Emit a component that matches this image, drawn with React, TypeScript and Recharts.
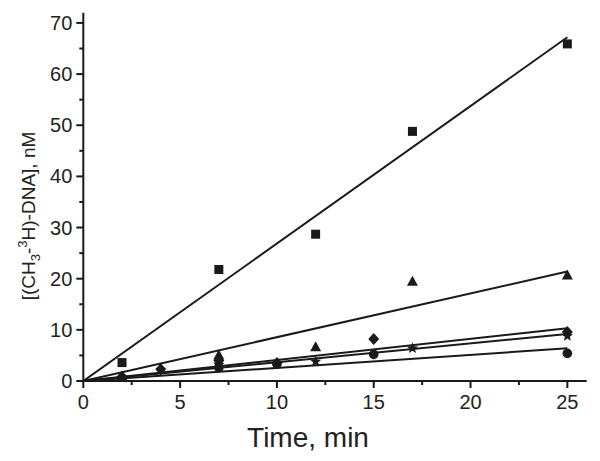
import React from 'react';
import { ScatterChart, Scatter, XAxis, YAxis } from 'recharts';

const squareT = [2, 7, 12, 17, 25];
const squareV = [3.6, 21.8, 28.7, 48.8, 65.9];
const triangleT = [2, 7, 12, 17, 25];
const triangleV = [1.0, 5.1, 6.7, 19.5, 20.7];
const diamondT = [2, 4, 7, 10, 15, 25];
const diamondV = [0.8, 2.3, 4.0, 3.5, 8.2, 9.6];
const starT = [2, 7, 12, 17, 25];
const starV = [0.5, 3.2, 3.8, 6.4, 8.8];
const circleT = [2, 7, 10, 15, 25];
const circleV = [0.6, 2.6, 3.3, 5.2, 5.4];

const fitT = [0, 25];
const fitSquare = [0, 67.2];
const fitTriangle = [0, 21.4];
const fitDiamond = [0, 10.3];
const fitStar = [0, 9.2];
const fitCircle = [0, 6.4];

const xTicks = [0, 2.5, 5, 7.5, 10, 12.5, 15, 17.5, 20, 22.5, 25];
const yTicks = [0, 5, 10, 15, 20, 25, 30, 35, 40, 45, 50, 55, 60, 65, 70];

const toPts = (xs: number[], ys: number[]) => xs.map((x, i) => ({ x, y: ys[i] }));

const INK = '#1a1a1a';
const FONT = '"Liberation Sans", Arial, sans-serif';

const SquareShape = (p: any) => <rect x={p.cx - 4.5} y={p.cy - 4.5} width={9} height={9} fill={INK} />;
const TriangleShape = (p: any) => (
  <polygon points={`${p.cx},${p.cy - 5.5} ${p.cx - 5.5},${p.cy + 4.5} ${p.cx + 5.5},${p.cy + 4.5}`} fill={INK} />
);
const DiamondShape = (p: any) => (
  <polygon points={`${p.cx},${p.cy - 6} ${p.cx + 5.5},${p.cy} ${p.cx},${p.cy + 6} ${p.cx - 5.5},${p.cy}`} fill={INK} />
);
const CircleShape = (p: any) => <circle cx={p.cx} cy={p.cy} r={4.8} fill={INK} />;
const StarShape = (p: any) => {
  const pts: string[] = [];
  for (let i = 0; i < 10; i++) {
    const r = i % 2 === 0 ? 6 : 2.6;
    const a = -Math.PI / 2 + (i * Math.PI) / 5;
    pts.push(`${p.cx + r * Math.cos(a)},${p.cy + r * Math.sin(a)}`);
  }
  return <polygon points={pts.join(' ')} fill={INK} />;
};
const NoShape = () => <g />;

const XTick = (p: any) => {
  const v = p.payload.value;
  const major = v % 5 === 0;
  return (
    <g>
      <line x1={p.x} x2={p.x} y1={p.y} y2={p.y + (major ? 7 : 4)} stroke={INK} strokeWidth={2} />
      {major && (
        <text x={p.x} y={p.y + 28} textAnchor="middle" fontSize={20} fontFamily={FONT} fill="#222">
          {v}
        </text>
      )}
    </g>
  );
};

const YTick = (p: any) => {
  const v = p.payload.value;
  const major = v % 10 === 0;
  return (
    <g>
      <line x1={p.x - (major ? 7 : 4)} x2={p.x} y1={p.y} y2={p.y} stroke={INK} strokeWidth={2} />
      {major && (
        <text x={p.x - 11} y={p.y + 7} textAnchor="end" fontSize={20} fontFamily={FONT} fill="#222">
          {v}
        </text>
      )}
    </g>
  );
};

const XLabel = () => (
  <text x={308} y={447} textAnchor="middle" fontSize={28} fontFamily={FONT} fill="#222">
    Time, min
  </text>
);

const YLabel = () => (
  <text
    x={0}
    y={0}
    transform="translate(35, 216) rotate(-90)"
    textAnchor="middle"
    fontSize={19}
    fontFamily={FONT}
    fill="#222"
  >
    [(CH<tspan fontSize={13} dy={5}>3</tspan>
    <tspan dy={-5}>-</tspan>
    <tspan fontSize={13} dy={-8}>3</tspan>
    <tspan dy={8}>H)-DNA], nM</tspan>
  </text>
);

const fitLine = { stroke: INK, strokeWidth: 2 };

export default function App() {
  return (
    <div style={{ position: 'absolute', left: 0, top: 0, background: '#fff' }}>
      <ScatterChart width={600} height={461} margin={{ top: 12.7, right: 13.3, bottom: 0, left: 0 }}>
        <XAxis
          type="number"
          dataKey="x"
          domain={[0, 26]}
          ticks={xTicks}
          interval={0}
          allowDataOverflow
          height={80}
          tickSize={0}
          tickMargin={0}
          tickLine={false}
          tick={<XTick />}
          axisLine={{ stroke: INK, strokeWidth: 2 }}
          label={{ content: <XLabel /> } as any}
        />
        <YAxis
          type="number"
          dataKey="y"
          domain={[0, 72]}
          ticks={yTicks}
          interval={0}
          allowDataOverflow
          width={83.3}
          tickSize={0}
          tickMargin={0}
          tickLine={false}
          tick={<YTick />}
          axisLine={{ stroke: INK, strokeWidth: 2 }}
          label={{ content: <YLabel /> } as any}
        />
        <Scatter data={toPts(fitT, fitSquare)} line={fitLine} shape={NoShape} isAnimationActive={false} />
        <Scatter data={toPts(fitT, fitTriangle)} line={fitLine} shape={NoShape} isAnimationActive={false} />
        <Scatter data={toPts(fitT, fitDiamond)} line={fitLine} shape={NoShape} isAnimationActive={false} />
        <Scatter data={toPts(fitT, fitStar)} line={fitLine} shape={NoShape} isAnimationActive={false} />
        <Scatter data={toPts(fitT, fitCircle)} line={fitLine} shape={NoShape} isAnimationActive={false} />
        <Scatter data={toPts(squareT, squareV)} shape={SquareShape} isAnimationActive={false} />
        <Scatter data={toPts(triangleT, triangleV)} shape={TriangleShape} isAnimationActive={false} />
        <Scatter data={toPts(diamondT, diamondV)} shape={DiamondShape} isAnimationActive={false} />
        <Scatter data={toPts(starT, starV)} shape={StarShape} isAnimationActive={false} />
        <Scatter data={toPts(circleT, circleV)} shape={CircleShape} isAnimationActive={false} />
      </ScatterChart>
    </div>
  );
}
